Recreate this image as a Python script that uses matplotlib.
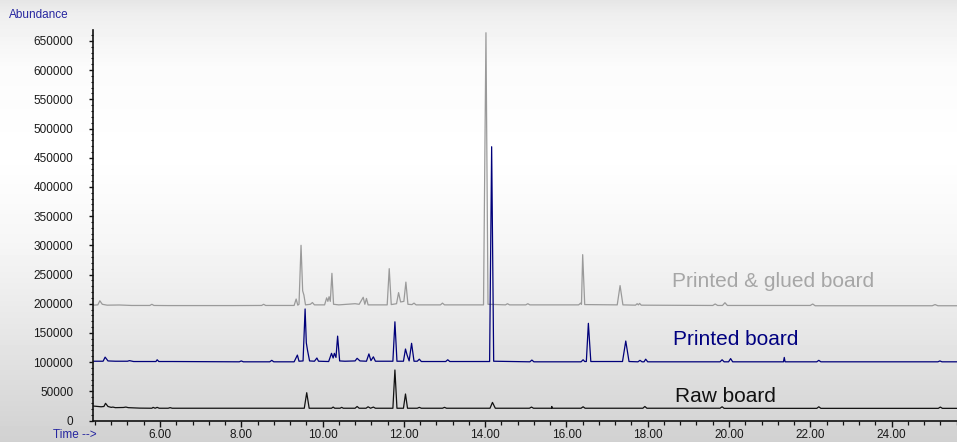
import numpy as np
import matplotlib
matplotlib.use("Agg")
import matplotlib.pyplot as plt
from matplotlib.ticker import MultipleLocator, FormatStrFormatter

plt.rcParams['font.family'] = ['Liberation Sans', 'DejaVu Sans']

# ---- Data (time [min], abundance) ----
glued_time = [4.35, 4.47, 4.52, 4.58, 4.70, 5.00, 5.30, 5.75, 5.80, 5.85, 6.20, 7.80, 8.50, 8.55, 8.60,
              9.30, 9.35, 9.39, 9.42, 9.47, 9.51, 9.54, 9.58, 9.70, 9.75, 9.80, 10.05, 10.10, 10.13,
              10.16, 10.19, 10.23, 10.27, 10.40, 10.80, 10.90, 11.00, 11.04, 11.08, 11.12, 11.59,
              11.64, 11.69, 11.82, 11.87, 11.92, 12.00, 12.05, 12.10, 12.20, 12.25, 12.30, 12.90,
              12.95, 13.00, 13.96, 14.02, 14.07, 14.50, 14.55, 14.60, 15.00, 15.05, 15.10, 16.30,
              16.35, 16.37, 16.40, 16.45, 17.25, 17.32, 17.39, 17.70, 17.74, 17.77, 17.80, 17.84,
              19.60, 19.66, 19.72, 19.84, 19.90, 19.96, 22.00, 22.06, 22.12, 25.00, 25.07, 25.14, 25.65]
glued_abund = [197500, 198000, 205000, 199000, 197500, 197800, 197000, 197000, 199000, 197000, 196800,
               196800, 197000, 199000, 197000, 197000, 208000, 197500, 199000, 300000, 222000, 215000,
               198000, 199000, 202000, 198000, 198000, 210000, 204000, 212000, 204000, 252000, 199000,
               198000, 200000, 199000, 211000, 199000, 209000, 198000, 198000, 260000, 198500, 200000,
               219000, 203000, 204000, 237000, 199000, 198500, 201000, 198000, 198000, 201000, 198000,
               198000, 664000, 199000, 198000, 200000, 198000, 198000, 200000, 198000, 198000, 201000,
               199000, 284000, 198500, 198000, 231000, 198000, 197500, 200000, 198000, 200500, 197500,
               197000, 199500, 197000, 197000, 201700, 197000, 197000, 199500, 196500, 196500, 198500,
               196500, 196500]

printed_time = [4.35, 4.60, 4.65, 4.72, 4.90, 5.20, 5.25, 5.35, 5.90, 5.93, 5.97, 6.30, 7.95, 8.00, 8.05,
                8.70, 8.75, 8.80, 9.30, 9.38, 9.42, 9.52, 9.57, 9.60, 9.63, 9.68, 9.80, 9.86, 9.90,
                10.15, 10.22, 10.26, 10.29, 10.33, 10.37, 10.42, 10.55, 10.80, 10.85, 10.92, 11.08,
                11.14, 11.19, 11.25, 11.30, 11.73, 11.78, 11.83, 11.99, 12.04, 12.08, 12.13, 12.19,
                12.25, 12.33, 12.38, 12.43, 13.03, 13.08, 13.13, 14.11, 14.16, 14.21, 15.10, 15.15,
                15.20, 16.36, 16.41, 16.45, 16.49, 16.54, 16.60, 17.38, 17.46, 17.54, 17.76, 17.81,
                17.86, 17.91, 17.95, 18.00, 19.78, 19.83, 19.88, 19.99, 20.04, 20.09, 21.34, 21.36,
                21.38, 22.16, 22.21, 22.26, 25.14, 25.19, 25.24, 25.65]
printed_abund = [101500, 101500, 108500, 102000, 101500, 101500, 102500, 101000, 101000, 104000, 101000,
                 101000, 100500, 102000, 100500, 100500, 103000, 100500, 100500, 112000, 101500, 102000,
                 191000, 133000, 120000, 102000, 101500, 107000, 101500, 101000, 115000, 107000, 115000,
                 108000, 144500, 102000, 101500, 102000, 106500, 102000, 101500, 114000, 102500, 109000,
                 101500, 101500, 169000, 101500, 101500, 122400, 112000, 102000, 132200, 101500, 101500,
                 105000, 101000, 101000, 104000, 101000, 101000, 468800, 101500, 100500, 103500, 100500,
                 100500, 104000, 101000, 101000, 166400, 101000, 101000, 136100, 101000, 100500, 103000,
                 100500, 100500, 105000, 100500, 100500, 104000, 100500, 100500, 106000, 100500, 100500,
                 108000, 100500, 100500, 103000, 100500, 100500, 102000, 100500, 100500]

raw_time = [4.35, 4.55, 4.62, 4.66, 4.72, 4.80, 4.84, 4.90, 5.10, 5.16, 5.22, 5.50, 5.80, 5.83, 5.88,
            5.93, 5.98, 6.20, 6.25, 6.30, 9.55, 9.61, 9.67, 10.22, 10.26, 10.30, 10.43, 10.47, 10.51,
            10.80, 10.85, 10.90, 11.07, 11.12, 11.18, 11.25, 11.30, 11.73, 11.78, 11.83, 11.99, 12.04,
            12.09, 12.33, 12.38, 12.43, 12.95, 13.00, 13.05, 14.12, 14.18, 14.25, 15.09, 15.14, 15.19,
            15.63, 15.64, 15.65, 16.36, 16.41, 16.46, 17.88, 17.93, 17.98, 19.78, 19.83, 19.88, 22.16,
            22.21, 22.26, 25.15, 25.20, 25.25, 25.65]
raw_abund = [24800, 23500, 24000, 29400, 24000, 22500, 23000, 22000, 22300, 23000, 22000, 21200, 21000,
             22500, 21000, 22500, 21000, 21000, 22000, 21000, 21000, 47600, 21000, 21000, 23000, 21000,
             21000, 22500, 21000, 21000, 24000, 21000, 21000, 23500, 21000, 23000, 21000, 21000, 86500,
             21000, 21000, 45400, 21000, 21000, 22500, 21000, 21000, 22500, 21000, 21000, 31000, 21000,
             21000, 23000, 21000, 21000, 24000, 21000, 21000, 23500, 21000, 21000, 24000, 21000, 21000,
             23500, 20800, 20800, 23500, 20800, 20800, 23000, 20800, 20800]

series_labels = ["Printed & glued board", "Printed board", "Raw board"]
x_major_ticks = [6, 8, 10, 12, 14, 16, 18, 20, 22, 24]
y_major_ticks = list(range(0, 650001, 50000))

W, H = 957, 442
fig = plt.figure(figsize=(W / 100, H / 100), dpi=100)

# background gradient
bg = fig.add_axes([0, 0, 1, 1], zorder=-10)
rows = np.linspace(0, 1, 442)
stops_y = [0.0, 0.03, 0.15, 0.35, 0.55, 0.75, 1.0]
stops_v = [0.90, 0.935, 0.985, 1.0, 0.965, 0.905, 0.82]
vals = np.interp(rows, stops_y, stops_v)
img = np.repeat(vals[:, None], 4, axis=1)
bg.imshow(img, cmap='gray', vmin=0, vmax=1, aspect='auto', extent=[0, 1, 0, 1], origin='upper')
bg.set_axis_off()

left = 92.7 / W
bottom = (H - 420.5) / H
top = (H - 30) / H
ax = fig.add_axes([left, bottom, 1 - left, top - bottom])
ax.patch.set_alpha(0)

ax.plot(glued_time, glued_abund, color='#9a9a9a', lw=0.9)
ax.plot(printed_time, printed_abund, color='#00007a', lw=0.9)
ax.plot(raw_time, raw_abund, color='#111111', lw=0.9)

ax.set_xlim(4.344, 25.61)
ax.set_ylim(0, 668700)

for s in ['top', 'right']:
    ax.spines[s].set_visible(False)
for s in ['left', 'bottom']:
    ax.spines[s].set_linewidth(1.2)
    ax.spines[s].set_color('#111111')

ax.set_xticks(x_major_ticks)
ax.xaxis.set_major_formatter(FormatStrFormatter('%.2f'))
ax.xaxis.set_minor_locator(MultipleLocator(0.4))
ax.set_yticks(y_major_ticks)
ax.yaxis.set_major_formatter(FormatStrFormatter('%d'))
ax.yaxis.set_minor_locator(MultipleLocator(10000))

ax.tick_params(axis='x', which='major', direction='out', length=4.3, width=1, pad=2,
               labelsize=8.5, labelcolor='#1a1a1a', color='#111111')
ax.tick_params(axis='x', which='minor', direction='out', length=2.9, width=0.9, color='#111111')
ax.tick_params(axis='y', which='major', direction='out', length=2.6, width=1, pad=11.5,
               labelsize=8.5, labelcolor='#1a1a1a', color='#111111')
ax.tick_params(axis='y', which='minor', direction='out', length=1.6, width=0.8, color='#111111')

ax.text(18.6, 228100, series_labels[0], color='#a6a6a6', fontsize=15, va='baseline', ha='left')
ax.text(18.62, 129300, series_labels[1], color='#000080', fontsize=15, va='baseline', ha='left')
ax.text(18.66, 32200, series_labels[2], color='#111111', fontsize=15, va='baseline', ha='left')

fig.text(9 / W, 1 - 14.5 / H, "Abundance", color='#2626a0', fontsize=8.5, va='center', ha='left')
fig.text(53 / W, 1 - 434.5 / H, "Time -->", color='#2626a0', fontsize=8.5, va='center', ha='left')

fig.savefig("out.png", dpi=100)
